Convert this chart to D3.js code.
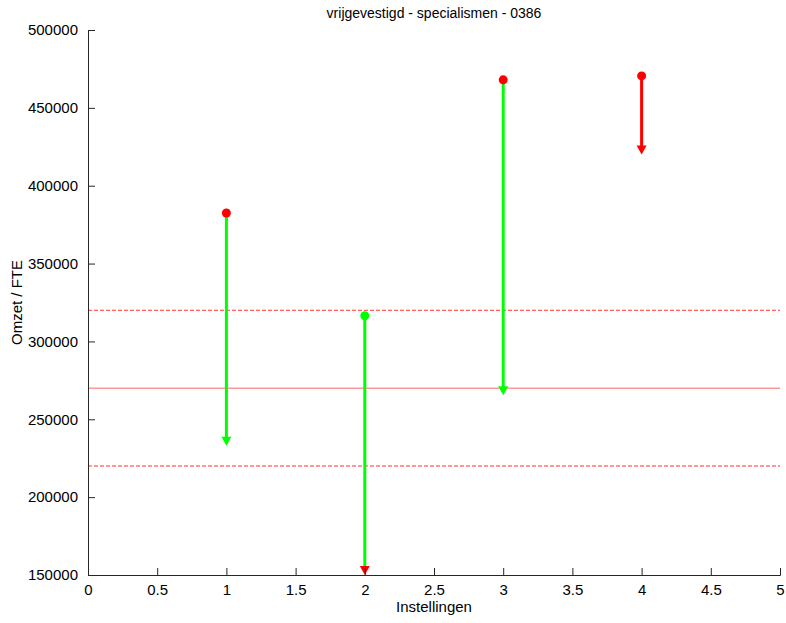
<!DOCTYPE html>
<html><head><meta charset="utf-8">
<script src="https://cdn.jsdelivr.net/npm/d3@7"></script>
<style>body{margin:0;background:#fff}svg{display:block}text{font-family:"Liberation Sans",Arial,sans-serif}</style>
</head><body><svg id="c" width="786" height="623"></svg>
<script>
const title = "vrijgevestigd - specialismen - 0386";
const xLabel = "Instellingen";
const yLabel = "Omzet / FTE";
const instellingen = [1, 2, 3, 4];
const startValues = [382500, 316500, 468000, 470500];
const endValues = [233000, 150000, 265500, 420000];
const arrowColors = ["#00ff00", "#00ff00", "#00ff00", "#ff0000"];
const dotColors = ["#ff0000", "#00ff00", "#ff0000", "#ff0000"];
const headColors = ["#00ff00", "#ff0000", "#00ff00", "#ff0000"];
const meanValue = 270000;
const bandValues = [220000, 320000];
const xTicks = [0, 0.5, 1, 1.5, 2, 2.5, 3, 3.5, 4, 4.5, 5];
const yTicks = [150000, 200000, 250000, 300000, 350000, 400000, 450000, 500000];

const svg = d3.select("#c");
const m = {l: 88, r: 780, t: 30, b: 575};
const x = d3.scaleLinear().domain([0, 5]).range([m.l, m.r]);
const y = d3.scaleLinear().domain([150000, 500000]).range([m.b, m.t]);

// reference lines
svg.append("line").attr("x1", x(0)).attr("x2", x(5)).attr("y1", y(meanValue)).attr("y2", y(meanValue))
  .attr("stroke", "#ff9999").attr("stroke-width", 1.5);
bandValues.forEach(v => {
  svg.append("line").attr("x1", x(0)).attr("x2", x(5)).attr("y1", y(v)).attr("y2", y(v))
    .attr("stroke", "#ff3333").attr("stroke-width", 1).attr("stroke-dasharray", "4,2");
});

// arrows
instellingen.forEach((d, i) => {
  const xp = x(d), y0 = y(startValues[i]), y1 = y(endValues[i]);
  const hh = 9, hw = 5;
  svg.append("line").attr("x1", xp).attr("x2", xp).attr("y1", y0).attr("y2", y1 - hh + 1)
    .attr("stroke", arrowColors[i]).attr("stroke-width", 3);
  svg.append("path").attr("d", `M${xp - hw},${y1 - hh}L${xp + hw},${y1 - hh}L${xp},${y1}Z`)
    .attr("fill", headColors[i]);
  svg.append("circle").attr("cx", xp).attr("cy", y0).attr("r", 4.5).attr("fill", dotColors[i]);
});

// axes (ticks inward)
const ax = svg.append("g").attr("transform", `translate(0,${m.b})`)
  .call(d3.axisBottom(x).tickValues(xTicks).tickSize(-7).tickPadding(9).tickFormat(d3.format("")));
const ay = svg.append("g").attr("transform", `translate(${m.l},0)`)
  .call(d3.axisLeft(y).tickValues(yTicks).tickSize(-7).tickPadding(10).tickFormat(d3.format("d")));
[ax, ay].forEach(g => {
  g.select(".domain").attr("stroke", "#262626");
  g.selectAll(".tick line").attr("stroke", "#262626");
  g.selectAll("text").attr("font-size", 15).attr("fill", "#000").attr("font-family", "Liberation Sans, Arial, sans-serif");
});
ax.selectAll("text").attr("dy", "0.71em");

svg.append("text").attr("x", (m.l + m.r) / 2).attr("y", 18).attr("text-anchor", "middle")
  .attr("font-size", 14).text(title);
svg.append("text").attr("x", (m.l + m.r) / 2).attr("y", 612).attr("text-anchor", "middle")
  .attr("font-size", 15).text(xLabel);
svg.append("text").attr("transform", `translate(22,${(m.t + m.b) / 2}) rotate(-90)`).attr("text-anchor", "middle")
  .attr("font-size", 15).text(yLabel);
</script></body></html>
